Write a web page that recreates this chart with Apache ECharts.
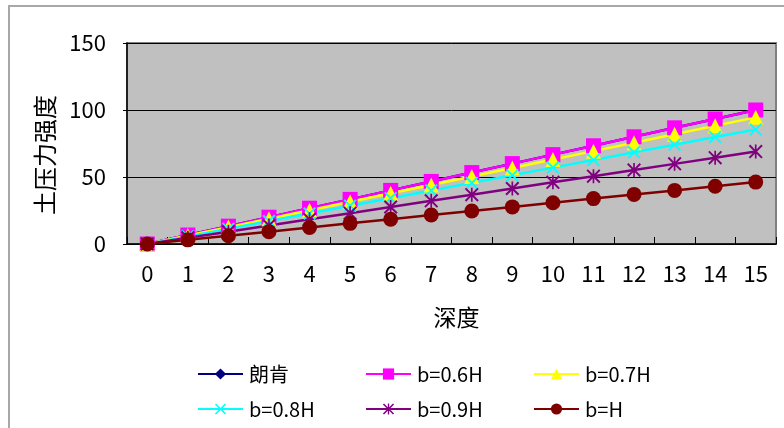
<!DOCTYPE html>
<html><head><meta charset="utf-8">
<script src="https://cdn.jsdelivr.net/npm/echarts@6/dist/echarts.min.js"></script>
<style>html,body{margin:0;padding:0;background:#fff}#c{width:784px;height:428px}</style>
</head><body><div id="c"></div>
<script>
const categories = ['0','1','2','3','4','5','6','7','8','9','10','11','12','13','14','15'];
const yTicks = [0, 50, 100, 150];
const yTitle = '土压力强度';
const seriesNames = ['朗肯', 'b=0.6H', 'b=0.7H', 'b=0.8H', 'b=0.9H', 'b=H'];
const langken = [0,6.7,13.3,20,26.7,33.3,40,46.7,53.3,60,66.7,73.3,80,86.7,93.3,100];
const b06 = [0,6.7,13.3,20,26.7,33.3,40,46.7,53.3,60,66.7,73.3,80,86.7,93.3,100];
const b07 = [0,6.3,12.6,18.9,25.2,31.5,37.8,44.1,50.4,56.7,63,69.3,75.6,81.9,88.2,94.5];
const b08 = [0,5.7,11.4,17.1,22.8,28.5,34.2,39.9,45.6,51.3,57,62.7,68.4,74.1,79.8,85.5];
const b09 = [0,4.6,9.2,13.8,18.4,23,27.6,32.2,36.8,41.4,46,50.6,55.2,59.8,64.4,69];
const bH = [0,3.1,6.2,9.2,12.3,15.4,18.5,21.6,24.6,27.7,30.8,33.9,37,40,43.1,46.2];

const FONT = '"Noto Sans CJK SC", "Noto Sans", sans-serif';
const xShape = 'path://M0,1 L1,0 L5,4 L9,0 L10,1 L6,5 L10,9 L9,10 L5,6 L1,10 L0,9 L4,5 Z';
const starShape = 'path://M0,1 L1,0 L5,4 L9,0 L10,1 L6,5 L10,9 L9,10 L5,6 L1,10 L0,9 L4,5 Z M4.4,0 L5.6,0 L5.6,10 L4.4,10 Z';

const styles = [
  {color:'#000080', symbol:'diamond', size:13},
  {color:'#ff00ff', symbol:'rect', size:15},
  {color:'#ffff00', symbol:'triangle', size:15},
  {color:'#00ffff', symbol:xShape, size:13},
  {color:'#800080', symbol:starShape, size:14},
  {color:'#800000', symbol:'circle', size:15}
];
const datas = [langken, b06, b07, b08, b09, bH];

const legendPos = [
  {left:197, top:363}, {left:365, top:363}, {left:533, top:363},
  {left:197, top:398}, {left:365, top:398}, {left:533, top:398}
];

const option = {
  animation: false,
  backgroundColor: '#ffffff',
  graphic: [{
    type: 'rect', shape: {x: 9, y: 6, width: 900, height: 600},
    style: {fill: 'none', stroke: '#a8a8a8', lineWidth: 2}, silent: true
  }, {
    type: 'text', x: 45, y: 155, rotation: Math.PI / 2, silent: true,
    style: {text: yTitle, fill: '#000', font: '24px ' + FONT, align: 'center', verticalAlign: 'middle'}
  }],
  grid: {left: 127, top: 43, right: 8, bottom: 184, show: true,
    backgroundColor: '#c0c0c0', borderColor: '#808080', borderWidth: 2},
  legend: seriesNames.map((n, i) => ({
    data: [n], left: legendPos[i].left, top: legendPos[i].top,
    itemWidth: 45, itemHeight: 14, itemGap: 0,
    textStyle: {fontFamily: FONT, fontSize: 20, color: '#000', lineHeight: 22, padding: [0,0,0,1]},
    padding: 0
  })),
  xAxis: {
    type: 'category', data: categories, boundaryGap: true,
    name: '深度', nameLocation: 'middle', nameGap: 62,
    nameTextStyle: {fontFamily: FONT, fontSize: 23, color: '#000', padding: [0,0,0,10]},
    axisLine: {show: true, lineStyle: {color: '#000', width: 1.5}},
    axisTick: {show: true, inside: true, length: 7, lineStyle: {color: '#000'}},
    axisLabel: {fontFamily: FONT, fontSize: 22, color: '#000', margin: 19}
  },
  yAxis: {
    type: 'value', min: yTicks[0], max: yTicks[yTicks.length-1], interval: 50,
    axisLine: {show: true, lineStyle: {color: '#000', width: 1.5}},
    axisTick: {show: true, length: 4, lineStyle: {color: '#000'}},
    splitLine: {show: true, lineStyle: {color: '#000', width: 1}},
    axisLabel: {fontFamily: FONT, fontSize: 22, color: '#000', margin: 21}
  },
  series: seriesNames.map((n, i) => ({
    name: n, type: 'line', data: datas[i],
    symbol: styles[i].symbol, symbolSize: styles[i].size, showAllSymbol: true,
    itemStyle: {color: styles[i].color},
    lineStyle: {color: styles[i].color, width: 2.5}
  }))
};
echarts.init(document.getElementById('c')).setOption(option);
</script></body></html>
